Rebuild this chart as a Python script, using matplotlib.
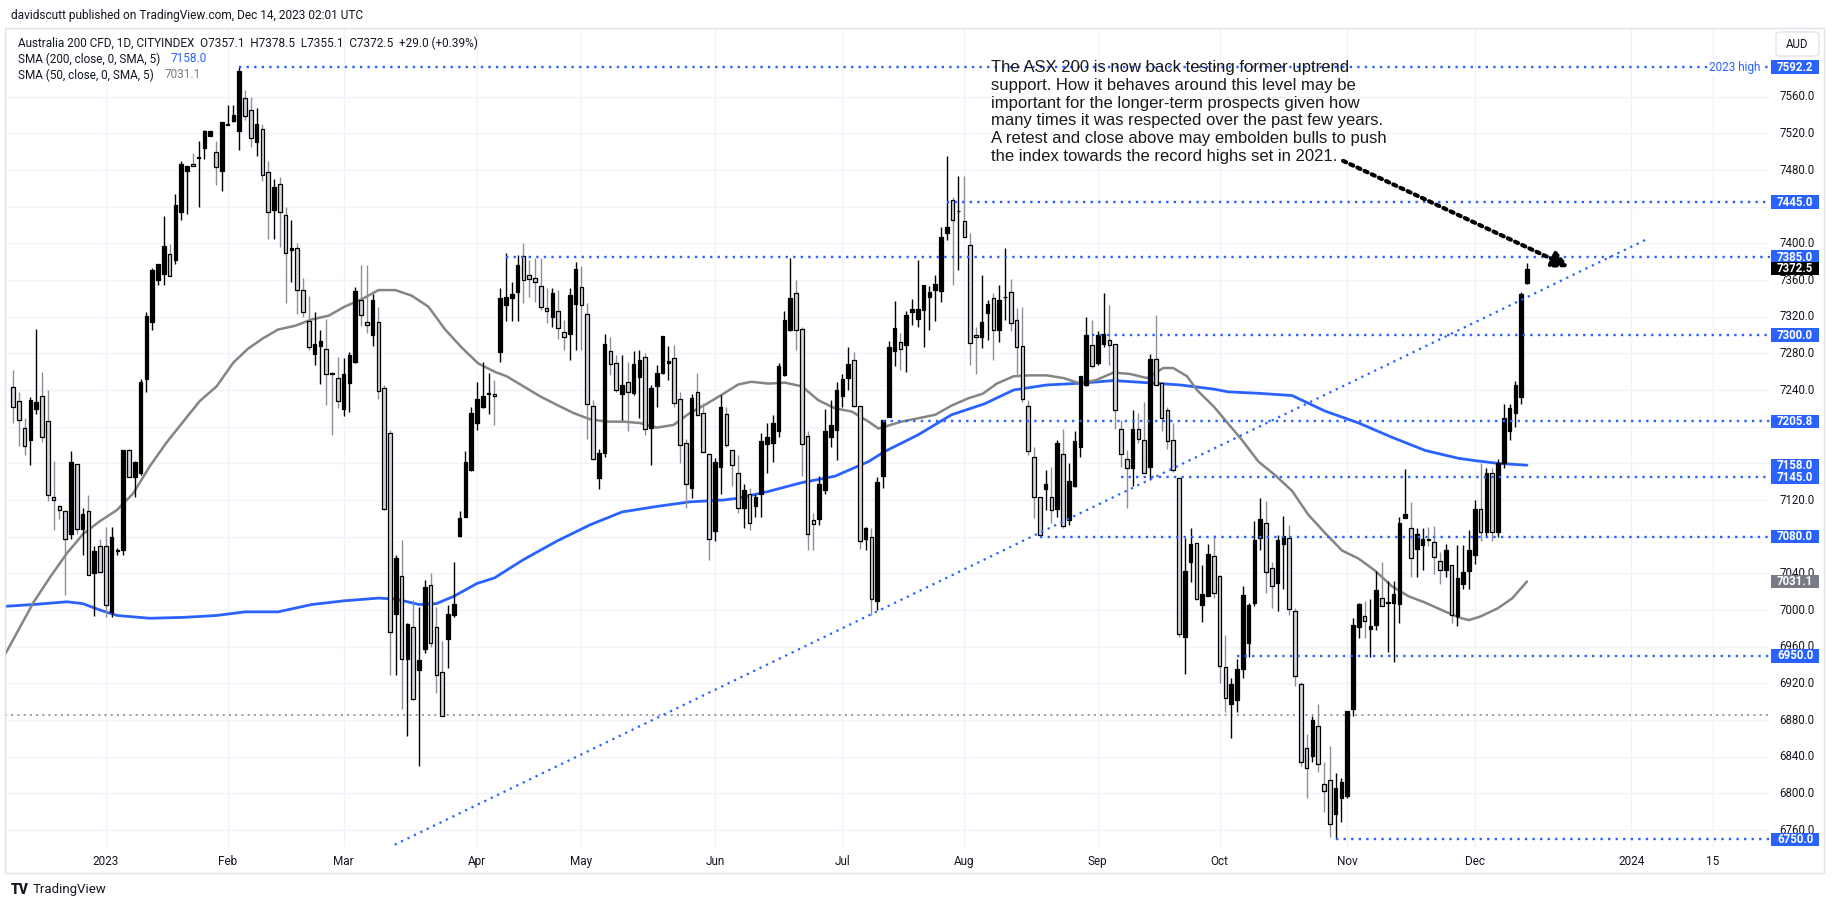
import datetime
import matplotlib
matplotlib.use("Agg")
import matplotlib.pyplot as plt
import matplotlib.transforms as mtransforms
from matplotlib.patches import Rectangle, FancyBboxPatch
from matplotlib.collections import PatchCollection

plt.rcParams['font.family'] = ['Roboto', 'DejaVu Sans']

# ---------------- data (Australia 200 CFD, daily) ----------------
month_names = ['2023', 'Feb', 'Mar', 'Apr', 'May', 'Jun', 'Jul', 'Aug', 'Sep', 'Oct', 'Nov', 'Dec']
# first entry = visible part of Dec 2022, then bars in each month of 2023
bars_per_month = [16, 21, 20, 23, 18, 23, 22, 21, 23, 21, 22, 22, 10]
last_bar_date = datetime.date(2023, 12, 14)
future_dates = [datetime.date(2024, 1, 1), datetime.date(2024, 1, 15)]
future_names = ['2024', '15']

opens = [7243, 7228, 7199, 7186, 7219, 7233, 7206, 7123, 7113, 7108,
         7083, 7159, 7088, 7108, 7040, 7070, 7070, 6998, 7064, 7065,
         7175, 7145, 7149, 7252, 7314, 7360, 7367, 7388, 7382, 7434,
         7479, 7487, 7493, 7504, 7517, 7500, 7479, 7529, 7533, 7522,
         7559, 7545, 7510, 7525, 7478, 7436, 7465, 7431, 7393, 7395,
         7349, 7315, 7279, 7288, 7285, 7259, 7253, 7219, 7248, 7271,
         7338, 7314, 7300, 7314, 7242, 7193, 6996, 7037, 6947, 6981,
         6935, 6957, 7027, 6981, 6932, 6968, 6995, 7081, 7102, 7153,
         7204, 7221, 7236, 7236, 7282, 7333, 7340, 7347, 7386, 7366,
         7362, 7354, 7330, 7320, 7326, 7303, 7301, 7334, 7352, 7323,
         7223, 7144, 7171, 7283, 7269, 7236, 7249, 7237, 7254, 7276,
         7199, 7244, 7259, 7269, 7275, 7230, 7182, 7133, 7238, 7215,
         7170, 7086, 7156, 7214, 7175, 7149, 7111, 7127, 7113, 7127,
         7181, 7182, 7195, 7256, 7306, 7346, 7307, 7190, 7098, 7099,
         7131, 7189, 7196, 7233, 7253, 7273, 7223, 7077, 7080, 7010,
         7146, 7211, 7283, 7292, 7289, 7325, 7317, 7327, 7341, 7349,
         7348, 7411, 7447, 7435, 7424, 7398, 7300, 7298, 7324, 7340,
         7306, 7341, 7347, 7316, 7288, 7223, 7167, 7123, 7132, 7123,
         7110, 7170, 7098, 7135, 7178, 7246, 7289, 7269, 7290, 7295,
         7290, 7197, 7165, 7155, 7197, 7185, 7156, 7274, 7248, 7218,
         7185, 7144, 6971, 7052, 7073, 7006, 7015, 7059, 7037, 6938,
         6897, 6902, 6936, 6964, 7008, 7079, 7095, 7046, 7029, 7072,
         7079, 6999, 6919, 6849, 6841, 6874, 6810, 6815, 6778, 6795,
         6797, 6892, 6982, 6993, 6979, 6984, 7013, 7008, 7008, 7007,
         7100, 7089, 7067, 7071, 7078, 7074, 7054, 7044, 7049, 6993,
         7028, 7043, 7060, 7110, 7085, 7150, 7085, 7160, 7195, 7215,
         7232, 7357.1]
highs = [7262, 7238, 7210, 7232, 7307, 7260, 7240, 7163, 7115, 7109,
         7174, 7159, 7111, 7125, 7070, 7078, 7091, 7091, 7068, 7175,
         7176, 7163, 7252, 7325, 7373, 7377, 7430, 7399, 7454, 7490,
         7484, 7498, 7512, 7524, 7522, 7512, 7532, 7551, 7551, 7592.2,
         7567, 7560, 7548, 7530, 7490, 7470, 7472, 7440, 7425, 7400,
         7362, 7343, 7325, 7305, 7317, 7260, 7276, 7275, 7281, 7352,
         7376, 7376, 7345, 7331, 7245, 7196, 7060, 7076, 6986, 7011,
         7003, 7033, 7040, 7003, 6966, 7005, 7052, 7108, 7173, 7222,
         7249, 7271, 7259, 7251, 7351, 7389, 7358, 7387, 7400, 7382,
         7384, 7384, 7351, 7351, 7349, 7316, 7351, 7380, 7375, 7335,
         7229, 7176, 7301, 7298, 7278, 7278, 7271, 7283, 7284, 7280,
         7246, 7267, 7299, 7288, 7289, 7238, 7187, 7236, 7259, 7226,
         7171, 7166, 7235, 7222, 7175, 7169, 7137, 7133, 7127, 7193,
         7204, 7213, 7269, 7326, 7384, 7360, 7309, 7195, 7106, 7146,
         7219, 7229, 7249, 7258, 7287, 7281, 7223, 7091, 7090, 7145,
         7207, 7294, 7337, 7302, 7326, 7339, 7382, 7355, 7353, 7366,
         7418, 7495, 7451, 7473, 7473, 7411, 7309, 7366, 7338, 7346,
         7355, 7395, 7361, 7329, 7331, 7229, 7178, 7123, 7153, 7156,
         7185, 7198, 7160, 7195, 7255, 7320, 7316, 7304, 7346, 7333,
         7290, 7207, 7175, 7218, 7215, 7227, 7279, 7322, 7249, 7222,
         7204, 7144, 7079, 7090, 7073, 7049, 7072, 7082, 7038, 6973,
         6926, 6947, 7026, 7008, 7097, 7122, 7119, 7052, 7082, 7103,
         7093, 7002, 6921, 6865, 6884, 6897, 6834, 6852, 6822, 6817,
         6890, 6991, 7008, 7010, 7012, 7043, 7052, 7032, 7032, 7102,
         7154, 7118, 7089, 7089, 7091, 7092, 7063, 7072, 7049, 7071,
         7071, 7087, 7120, 7160, 7155, 7155, 7165, 7225, 7225, 7250,
         7347, 7378.5]
lows = [7204, 7179, 7169, 7158, 7214, 7183, 7119, 7087, 7099, 7016,
        7077, 7083, 7060, 7038, 6994, 7040, 6992, 6992, 7060, 7060,
        7145, 7123, 7147, 7238, 7306, 7355, 7355, 7364, 7377, 7425,
        7432, 7484, 7440, 7492, 7517, 7464, 7457, 7529, 7532, 7502,
        7535, 7505, 7495, 7468, 7405, 7405, 7396, 7335, 7358, 7323,
        7320, 7284, 7267, 7247, 7224, 7191, 7220, 7212, 7216, 7269,
        7310, 7302, 7288, 7230, 7109, 6929, 6929, 6892, 6863, 6902,
        6830, 6953, 6960, 6910, 6884, 6937, 6992, 7080, 7101, 7152,
        7196, 7220, 7214, 7202, 7271, 7315, 7315, 7315, 7335, 7342,
        7336, 7327, 7313, 7309, 7296, 7284, 7273, 7284, 7284, 7187,
        7164, 7132, 7167, 7256, 7238, 7207, 7195, 7235, 7209, 7191,
        7158, 7221, 7258, 7251, 7222, 7160, 7111, 7122, 7212, 7171,
        7055, 7075, 7127, 7178, 7135, 7106, 7089, 7087, 7102, 7102,
        7149, 7162, 7189, 7255, 7304, 7284, 7146, 7066, 7066, 7093,
        7127, 7178, 7164, 7222, 7240, 7222, 7067, 7066, 6995, 7000,
        7133, 7211, 7266, 7262, 7260, 7311, 7309, 7287, 7305, 7315,
        7336, 7404, 7355, 7371, 7407, 7267, 7258, 7286, 7295, 7273,
        7292, 7316, 7304, 7255, 7227, 7169, 7100, 7081, 7109, 7095,
        7102, 7089, 7093, 7134, 7167, 7244, 7264, 7267, 7287, 7267,
        7198, 7156, 7111, 7135, 7182, 7149, 7142, 7246, 7195, 7176,
        7151, 6971, 6930, 7031, 7011, 6987, 7015, 7013, 6920, 6889,
        6860, 6889, 6926, 6949, 7004, 7065, 7019, 7002, 6999, 7023,
        6995, 6917, 6830, 6795, 6834, 6823, 6780, 6752, 6750, 6769,
        6795, 6884, 6969, 6969, 6949, 6978, 7004, 6954, 6943, 6986,
        7100, 7036, 7036, 7044, 7070, 7039, 7028, 7036, 6986, 6983,
        7023, 7023, 7050, 7075, 7080, 7075, 7080, 7155, 7185, 7200,
        7225, 7355.1]
closes = [7222, 7207, 7179, 7229, 7227, 7189, 7126, 7120, 7109, 7077,
          7161, 7088, 7105, 7038, 7064, 7041, 7006, 7080, 7066, 7175,
          7145, 7162, 7249, 7321, 7371, 7377, 7397, 7364, 7442, 7486,
          7484, 7484, 7493, 7522, 7522, 7483, 7532, 7529, 7540, 7588,
          7539, 7515, 7530, 7475, 7434, 7462, 7434, 7390, 7395, 7349,
          7325, 7287, 7290, 7293, 7258, 7257, 7228, 7257, 7278, 7348,
          7322, 7311, 7338, 7239, 7110, 6976, 7057, 6947, 6985, 6903,
          6946, 7025, 6964, 6929, 6884, 6996, 7007, 7100, 7161, 7215,
          7230, 7233, 7237, 7233, 7340, 7341, 7345, 7376, 7360, 7361,
          7358, 7331, 7326, 7346, 7308, 7298, 7344, 7372, 7333, 7225,
          7165, 7171, 7290, 7268, 7240, 7246, 7238, 7268, 7273, 7198,
          7242, 7259, 7299, 7272, 7226, 7180, 7138, 7231, 7213, 7172,
          7077, 7162, 7222, 7180, 7158, 7111, 7131, 7095, 7123, 7184,
          7189, 7204, 7266, 7316, 7340, 7306, 7181, 7083, 7094, 7138,
          7195, 7202, 7240, 7252, 7268, 7223, 7075, 7089, 7012, 7140,
          7207, 7287, 7308, 7285, 7322, 7328, 7328, 7355, 7347, 7356,
          7407, 7418, 7425, 7435, 7407, 7291, 7298, 7314, 7334, 7306,
          7338, 7341, 7313, 7287, 7230, 7173, 7123, 7082, 7137, 7109,
          7182, 7092, 7141, 7184, 7255, 7300, 7266, 7300, 7301, 7289,
          7218, 7170, 7155, 7197, 7187, 7150, 7274, 7246, 7209, 7184,
          7153, 6974, 7043, 7072, 7012, 7017, 7061, 7019, 6939, 6904,
          6919, 6936, 7016, 7006, 7076, 7099, 7042, 7026, 7076, 7081,
          7001, 6928, 6834, 6828, 6880, 6832, 6803, 6767, 6806, 6812,
          6890, 6984, 7007, 6988, 6983, 7022, 7004, 7008, 7018, 7095,
          7105, 7057, 7083, 7078, 7076, 7058, 7044, 7066, 6995, 7035,
          7041, 7066, 7110, 7085, 7150, 7085, 7160, 7210, 7220, 7245,
          7345, 7372.5]

# SMA lines (bar index, value)
sma200_x = [-1.5, 3.5, 9.3, 12, 15, 18, 23.6, 29.4, 35, 40, 45.7, 51.5, 57, 63, 66, 70, 73,
            76, 80, 83, 88, 93.7, 99.5, 105, 111, 116.7, 122.5, 125, 130, 136, 141.7, 147.5,
            150.3, 156, 161.8, 167.5, 172.5, 178.2, 184, 189.7, 195.5, 201.2, 207, 209.5,
            214.7, 220.5, 226.2, 232, 237.7, 243.5, 249.2, 252, 256, 261]
sma200_y = [7004, 7006, 7009, 7007, 7000, 6994, 6991, 6992, 6994, 6998, 6998, 7006, 7010, 7013,
            7012, 7006, 7007, 7015, 7029, 7035, 7055, 7075, 7093, 7107, 7113, 7118, 7120, 7122,
            7129, 7139, 7146, 7162, 7173, 7191, 7213, 7225, 7240, 7245.5, 7247.4, 7250.3, 7248,
            7245.5, 7241, 7238, 7236.4, 7234, 7217, 7204, 7188.5, 7174, 7165.5, 7163, 7160, 7158]
sma50_x = [-1.5, 3.5, 6.4, 9.3, 12.1, 15, 17.9, 20.7, 23.6, 26.5, 29.4, 32.2, 35.1, 38, 40.5,
           43, 45.7, 48.6, 51.5, 54.4, 57.2, 60.1, 63, 65.9, 68.7, 71.6, 74.5, 77.4, 80.2, 83,
           85.1, 88, 90.9, 93.7, 96.6, 99.5, 102.4, 105.2, 108.1, 111, 113.9, 116.7, 119.6,
           122.5, 125, 127.3, 130.2, 133.1, 136, 138.8, 141.7, 144.6, 147.5, 149.2, 153.2, 159,
           161.8, 164.7, 167.2, 169.6, 172.5, 175.3, 178.2, 181.1, 184, 186.8, 189.7, 192.6,
           195.5, 198.3, 200, 202.4, 204.1, 207, 209.4, 211.8, 214.7, 217.6, 220.5, 223.3,
           226.2, 229.1, 232, 234.8, 237.7, 240.6, 243.5, 246.3, 249.2, 251, 253, 256, 258.5, 261]
sma50_y = [6950, 7008, 7036, 7062, 7083, 7097, 7109, 7127, 7157, 7183, 7206, 7228, 7244, 7270,
           7285, 7296, 7306, 7310, 7317, 7321, 7331, 7339, 7349, 7349, 7343, 7331, 7306, 7286,
           7269, 7260, 7255, 7244, 7233, 7224, 7215, 7208, 7205.5, 7205.5, 7204, 7199, 7202,
           7215, 7225, 7236, 7246, 7249, 7247, 7248, 7244, 7229, 7220, 7216.5, 7205.5, 7198,
           7205.5, 7213, 7223, 7231, 7236, 7247, 7255, 7256, 7256, 7253, 7247, 7251, 7259,
           7257.5, 7253, 7264, 7264, 7255, 7240, 7222, 7204, 7186, 7162, 7147, 7130, 7104,
           7084, 7065, 7056, 7043, 7026, 7015, 7008, 7000, 6992, 6989, 6993, 7002, 7013, 7031.1]

# horizontal levels drawn by the author (price, first bar)
level_prices = [7592.2, 7445.0, 7385.0, 7300.0, 7205.8, 7145.0, 7080.0, 6950.0, 6750.0]
level_start = [39, 161, 85, 186, 150, 191, 177, 211, 228]
grey_level = 6885.0
trend_from = (65.8, 6744)
trend_to = (281.5, 7404)
arrow_from = (229.3, 7490)
arrow_to = (268.3, 7374)

sma200_last = 7158.0
sma50_last = 7031.1
last_close = 7372.5

note = ("The ASX 200 is now back testing former uptrend\n"
        "support. How it behaves around this level may be\n"
        "important for the longer-term prospects given how\n"
        "many times it was respected over the past few years.\n"
        "A retest and close above may embolden bulls to push\n"
        "the index towards the record highs set in 2021.")

# ---------------- layout helpers ----------------
W, H = 1836, 909
BLUE = '#2962ff'
TXT = '#131722'
GRID = '#f0f3fa'

def fx(px):
    return px / W

def fy(py):
    return 1 - py / H

fig = plt.figure(figsize=(W / 100, H / 100), dpi=100)
fig.patch.set_facecolor('white')

plot_l, plot_r, plot_t, plot_b = 5, 1770, 28, 847
ax = fig.add_axes([fx(plot_l), fy(plot_b), fx(plot_r - plot_l), (plot_b - plot_t) / H])
ax.set_xlim(-1.38, 302.9)
ax.set_ylim(6741.5, 7634.9)
for s in ax.spines.values():
    s.set_visible(False)
ax.set_yticks([])

# month ticks
tick_pos = []
pos = 0
for b in bars_per_month[:-1]:
    pos += b
    tick_pos.append(pos)
n = len(closes)
for d in future_dates:
    tick_pos.append(n - 1 + (d - last_bar_date).days)
tick_names = month_names + future_names
ax.set_xticks(tick_pos)
ax.set_xticklabels(tick_names, fontsize=8.5, color=TXT)
ax.tick_params(axis='x', length=0, pad=6)

price_ticks = list(range(6760, 7561, 40))
for p in price_ticks:
    ax.axhline(p, color=GRID, lw=1, zorder=0)
for t in tick_pos:
    ax.axvline(t, color=GRID, lw=1, zorder=0)

# ---------------- candles ----------------
bw = 0.62
up_rects, dn_rects = [], []
up_x, up_lo, up_hi, dn_x, dn_lo, dn_hi = [], [], [], [], [], []
for i in range(n):
    o, c = opens[i], closes[i]
    lo, hi = min(o, c), max(o, c)
    r = Rectangle((i - bw / 2, lo), bw, max(hi - lo, 0.8))
    if c >= o:
        up_rects.append(r)
        up_x.append(i); up_lo.append(lows[i]); up_hi.append(highs[i])
    else:
        dn_rects.append(r)
        dn_x.append(i); dn_lo.append(lows[i]); dn_hi.append(highs[i])

ax.vlines(dn_x, dn_lo, dn_hi, colors='#8c8f98', lw=1, zorder=3)
ax.vlines(up_x, up_lo, up_hi, colors='black', lw=1, zorder=3)
ax.add_collection(PatchCollection(dn_rects, facecolor='#d1d4dc', edgecolor='black', linewidths=0.9, zorder=4))
ax.add_collection(PatchCollection(up_rects, facecolor='black', edgecolor='black', linewidths=0.9, zorder=4))

# ---------------- moving averages ----------------
ax.plot(sma200_x, sma200_y, color=BLUE, lw=2, zorder=2, solid_capstyle='round')
ax.plot(sma50_x, sma50_y, color='#858585', lw=1.8, zorder=2, solid_capstyle='round')

# ---------------- drawings ----------------
xr = ax.get_xlim()[1]
dot = (0, (1, 2.2))
for p, s in zip(level_prices, level_start):
    ax.hlines(p, s, xr, colors=BLUE, linestyles=dot, lw=1.7, zorder=5)
ax.hlines(grey_level, ax.get_xlim()[0], xr, colors='#9598a1', linestyles=dot, lw=1.4, zorder=1)
ax.plot([trend_from[0], trend_to[0]], [trend_from[1], trend_to[1]], color=BLUE,
        ls=dot, lw=1.6, zorder=5)

ax.annotate('', xy=arrow_to, xytext=arrow_from,
            arrowprops=dict(arrowstyle='-|>,head_length=1.0,head_width=0.5',
                            color='black', lw=3.0, linestyle=(0, (0.8, 1.1)),
                            shrinkA=0, shrinkB=0), zorder=6)

trans = mtransforms.blended_transform_factory(fig.transFigure, ax.transData)
ax.text(fx(1735), 7592.2, '2023 high', transform=trans, ha='center', va='center',
        fontsize=8.5, color=BLUE, zorder=7,
        bbox=dict(boxstyle='square,pad=0.15', fc='white', ec='none'))

# va='baseline' anchors the last line of a multi-line text
fig.text(fx(991), fy(160.5), note, ha='left', va='baseline', fontsize=12,
         family=['Liberation Sans', 'DejaVu Sans'], color='#1a1a1a', linespacing=1.22)

# ---------------- price scale ----------------
box_vals = [7592.2, 7445.0, 7385.0, last_close, 7300.0, 7205.8, 7145.0, sma200_last,
            7080.0, sma50_last, 6950.0, 6750.0]
box_cols = [BLUE, BLUE, BLUE, 'black', BLUE, BLUE, BLUE, BLUE,
            BLUE, '#787b86', BLUE, BLUE]
for p in price_ticks:
    # labels fully hidden behind a marker box are not drawn
    if min(abs(p - v) for v in box_vals) < 6:
        continue
    ax.text(fx(1797), p, f'{p:.1f}', transform=trans, ha='center', va='center',
            fontsize=8.3, color=TXT, clip_on=False, zorder=8)

box_h = 14.5
for val, col in zip(box_vals, box_cols):
    ax.add_patch(Rectangle((fx(1771), val - box_h / 2), fx(48), box_h, transform=trans,
                           facecolor=col, edgecolor='none', clip_on=False, zorder=9))
    ax.text(fx(1795), val, f'{val:.1f}', transform=trans, ha='center', va='center',
            fontsize=8.3, color='white', fontweight='bold', clip_on=False, zorder=10)

fig.patches.append(FancyBboxPatch((fx(1776), fy(56)), fx(43), (56 - 32) / H,
                                  boxstyle='round,pad=0,rounding_size=0.003',
                                  transform=fig.transFigure, facecolor='white',
                                  edgecolor='#e0e3eb', lw=1))
fig.text(fx(1797.5), fy(44), 'AUD', ha='center', va='center', fontsize=8.3, color=TXT)

# panel border
fig.patches.append(Rectangle((fx(5), fy(873)), fx(1819), (873 - 28) / H,
                             transform=fig.transFigure, facecolor='none',
                             edgecolor='#e0e3eb', lw=1, zorder=0))

# ---------------- header / legend / footer ----------------
fig.text(fx(11), fy(15), 'davidscutt published on TradingView.com, Dec 14, 2023 02:01 UTC',
         ha='left', va='center', fontsize=8.6, color=TXT)
fig.text(fx(18), fy(43), 'Australia 200 CFD, 1D, CITYINDEX  O7357.1  H7378.5  L7355.1  '
         'C7372.5  +29.0 (+0.39%)', ha='left', va='center', fontsize=8.5, color=TXT)
fig.text(fx(18), fy(59), 'SMA (200, close, 0, SMA, 5)', ha='left', va='center',
         fontsize=8.5, color=TXT)
fig.text(fx(171), fy(59), f'{sma200_last:.1f}', ha='left', va='center', fontsize=8.5, color=BLUE)
fig.text(fx(18), fy(75), 'SMA (50, close, 0, SMA, 5)', ha='left', va='center',
         fontsize=8.5, color=TXT)
fig.text(fx(165), fy(75), f'{sma50_last:.1f}', ha='left', va='center', fontsize=8.5,
         color='#787b86')

fig.text(fx(11), fy(890), 'TV', ha='left', va='center', fontsize=10, fontweight='heavy', color=TXT)
fig.text(fx(33), fy(890), 'TradingView', ha='left', va='center', fontsize=9.5, color=TXT)

fig.savefig('out.png', dpi=100, facecolor='white')
